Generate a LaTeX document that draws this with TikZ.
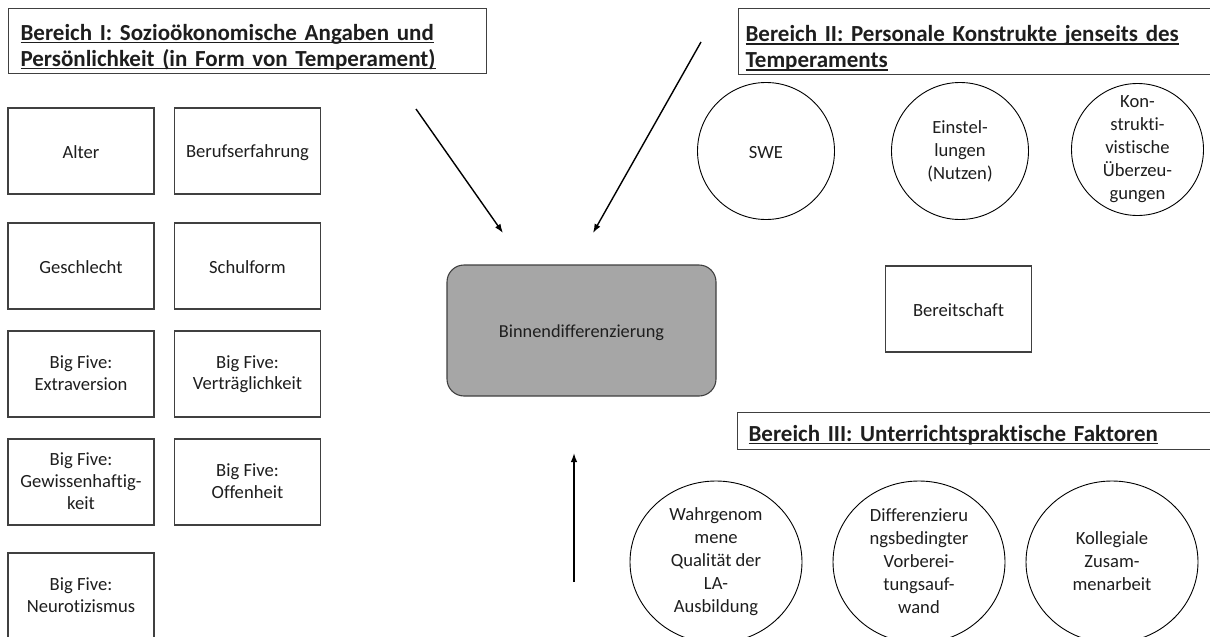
\documentclass[tikz,border=0pt]{standalone}
\usepackage{fontspec}
\setmainfont{Carlito}[Ligatures=NoCommon]
\usetikzlibrary{shapes.geometric,arrows.meta}
\definecolor{edge}{HTML}{404040}
\definecolor{core}{HTML}{A6A6A6}
\definecolor{ink}{HTML}{1E1E1E}
% underline at a fixed depth below the baseline, independent of descenders
\newlength\headwd
\newcommand\headline[1]{\leavevmode\settowidth\headwd{#1}%
  \rlap{\rule[-3.2pt]{\headwd}{1.4pt}}#1}
% invisible struts that fix the vertical placement of node texts
\newcommand\boxstrut{\rule[-2pt]{0pt}{19pt}}
\newcommand\headbottom{\rule[-5pt]{0pt}{5pt}}

\begin{document}
\begin{tikzpicture}[x=1pt,y=-1pt,
  every node/.style={text=ink},
  boxtext/.style={align=center, execute at begin node=\boxstrut,
    execute at end node=\boxstrut},
  factor/.style={boxtext, draw=edge, line width=1.1pt, rectangle,
    minimum width=146pt, minimum height=86pt, inner sep=2pt,
    font=\fontsize{18.6}{21.6}\selectfont},
  construct/.style={boxtext, draw=black, line width=0.9pt, circle,
    inner sep=0pt, font=\fontsize{18.6}{23}\selectfont},
  practice/.style={boxtext, draw=black, line width=0.9pt, ellipse,
    minimum width=172pt, minimum height=162pt, inner sep=0pt,
    font=\fontsize{18.6}{23}\selectfont},
  heading/.style={draw=edge, line width=1.1pt, rectangle, anchor=north west,
    align=left, inner ysep=0pt, execute at begin node={\rule{0pt}{#1}},
    execute at end node=\headbottom,
    font=\bfseries\fontsize{23}{26}\selectfont},
  influence/.style={-{Latex[length=9pt,width=6.5pt]}, line width=1.4pt, black}]

\useasboundingbox (0,0) rectangle (1210,637);
\clip (0,0) rectangle (1210,637);
\fill[white] (0,0) rectangle (1210,637);

% area headings
\node[heading=29pt, minimum width=478pt, minimum height=65pt, text width=454pt,
      inner xsep=12pt] (areaI) at (8,8)
  {\headline{Bereich I: Sozioökonomische Angaben und}\\
   \headline{Persönlichkeit (in Form von Temperament)}};
\node[heading=31pt, minimum width=477pt, minimum height=66pt, text width=463pt,
      inner xsep=7pt] (areaII) at (738,8)
  {\headline{Bereich II: Personale Konstrukte jenseits des}\\
   \headline{Temperaments}};
\node[heading=25pt, minimum width=478pt, minimum height=37pt, text width=456pt,
      inner xsep=11pt] (areaIII) at (737,412)
  {\headline{Bereich III: Unterrichtspraktische Faktoren}};

% area I: socio-economic data and personality
\node[factor] (alter)  at (81,151)    {Alter};
\node[factor] (beruf)  at (247.5,151) {Berufserfahrung};
\node[factor] (geschl) at (81,266)    {Geschlecht};
\node[factor] (schule) at (247.5,266) {Schulform};
\node[factor] (extra)  at (81,374)    {Big Five:\\Extraversion};
\node[factor] (vertr)  at (247.5,374) {Big Five:\\Verträglichkeit};
\node[factor] (gewis)  at (81,482)    {Big Five:\\Gewissenhaftig-\\keit};
\node[factor] (offen)  at (247.5,482) {Big Five:\\Offenheit};
\node[factor] (neuro)  at (81,596)    {Big Five:\\Neurotizismus};

% outcome
\node[boxtext, draw=edge, line width=1.1pt, fill=core, rounded corners=17pt,
      minimum width=269pt, minimum height=131pt,
      font=\fontsize{18.3}{21.6}\selectfont] (binnen) at (581.5,330.5)
  {Binnendifferenzierung};

% area II: personal constructs
\node[construct, minimum size=137pt] (swe)  at (766,151)    {SWE};
\node[construct, minimum size=137pt] (einst) at (960,151)   {Einstel-\\lungen\\(Nutzen)};
\node[construct, minimum size=132pt] (konst) at (1137.5,149.5)
  {Kon-\\strukti-\\vistische\\Überzeu-\\gungen};
\node[factor] (bereit) at (958.5,309) {Bereitschaft};

% area III: teaching practice
\node[practice] (quali) at (716,562)
  {Wahrgenom\\mene\\Qualität der\\LA-\\Ausbildung};
\node[practice] (aufwand) at (919,562)
  {Differenzieru\\ngsbedingter\\Vorberei-\\tungsauf-\\wand};
\node[practice] (koll) at (1112,562)
  {Kollegiale\\Zusam-\\menarbeit};

% arrows towards the outcome
\coordinate (fromI)   at (416,109);
\coordinate (toI)     at (503,233);
\coordinate (fromII)  at (701,42);
\coordinate (toII)    at (593,233);
\coordinate (fromIII) at (574,582);
\coordinate (toIII)   at (574,453);
\draw[influence] (fromI) -- (toI);
\draw[influence] (fromII) -- (toII);
\draw[influence] (fromIII) -- (toIII);
\end{tikzpicture}
\end{document}
